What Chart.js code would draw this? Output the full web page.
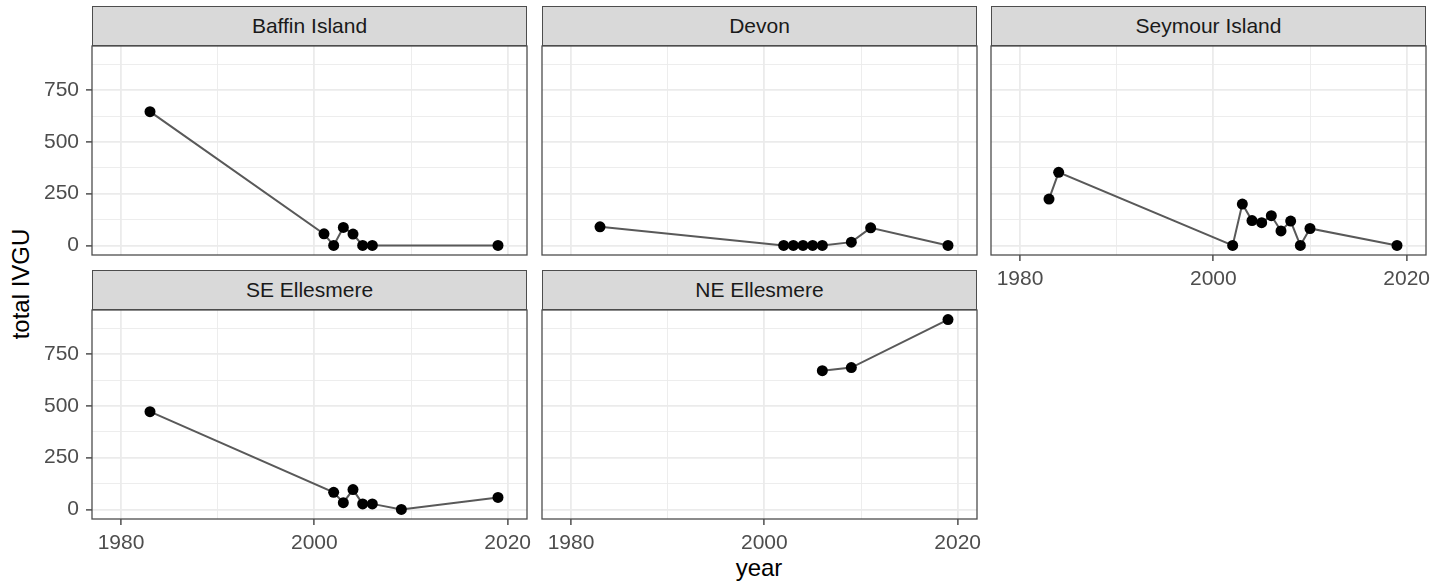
<!DOCTYPE html>
<html>
<head>
<meta charset="utf-8">
<script src="https://cdn.jsdelivr.net/npm/chart.js@4.4.1/dist/chart.umd.min.js"></script>
<style>
  body { margin: 0; background: #fff; font-family: "Liberation Sans", Arial, sans-serif; }
  #wrap { position: relative; width: 1446px; height: 584px; overflow: hidden; background: #fff; }
  canvas { position: absolute; }
  .strip {
    position: absolute; box-sizing: border-box; height: 40px;
    background: #d9d9d9; border: 1.3px solid #4d4d4d;
    color: #1a1a1a; font-size: 21px; text-align: center; line-height: 38px;
  }
  .ytitle {
    position: absolute; left: 21px; top: 284px; font-size: 24px; color: #000;
    transform: translate(-50%, -50%) rotate(-90deg); white-space: nowrap;
  }
  .xtitle {
    position: absolute; left: 759px; top: 568px; font-size: 24px; color: #000;
    transform: translate(-50%, -50%); white-space: nowrap;
  }
</style>
</head>
<body>
<div id="wrap">
  <div class="ytitle">total IVGU</div>
  <div class="xtitle">year</div>
</div>

<script>
    // values
    const baffinYears = [1983, 2001, 2002, 2003, 2004, 2005, 2006, 2019];
    const baffinIVGU = [646, 56, 0, 87, 55, 0, 0, 0];

    const devonYears = [1983, 2002, 2003, 2004, 2005, 2006, 2009, 2011, 2019];
    const devonIVGU = [90, 0, 0, 0, 0, 0, 16, 85, 0];

    const seymourYears = [1983, 1984, 2002, 2003, 2004, 2005, 2006, 2007, 2008, 2009, 2010, 2019];
    const seymourIVGU = [224, 353, 0, 200, 120, 110, 144, 70, 118, 0, 82, 0];

    const seEllesmereYears = [1983, 2002, 2003, 2004, 2005, 2006, 2009, 2019];
    const seEllesmereIVGU = [472, 83, 33, 96, 27, 27, 0, 58];

    const neEllesmereYears = [2006, 2009, 2019];
    const neEllesmereIVGU = [670, 685, 917];

    const yTicks = [0, 125, 250, 375, 500, 625, 750, 875];
    const xTicks = [1980, 1990, 2000, 2010, 2020];

    const panels = [
        { name: 'Baffin Island', years: baffinYears, vals: baffinIVGU, col: 0, row: 0, showY: true, showX: false },
        { name: 'Devon', years: devonYears, vals: devonIVGU, col: 1, row: 0, showY: false, showX: false },
        { name: 'Seymour Island', years: seymourYears, vals: seymourIVGU, col: 2, row: 0, showY: false, showX: true },
        { name: 'SE Ellesmere', years: seEllesmereYears, vals: seEllesmereIVGU, col: 0, row: 1, showY: true, showX: true },
        { name: 'NE Ellesmere', years: neEllesmereYears, vals: neEllesmereIVGU, col: 1, row: 1, showY: false, showX: true }
    ];

    // layout of the facet grid
    const colLeft = [92, 542, 991];
    const panelW = 435;
    const stripTop = [6, 270];
    const stripH = 40;
    const plotH = 209;

    const font = { family: '"Liberation Sans", Arial, sans-serif', size: 21 };

    const panelBorder = {
        id: 'panelBorder',
        afterDraw(chart) {
            const a = chart.chartArea;
            const c = chart.ctx;
            c.save();
            c.strokeStyle = '#4d4d4d';
            c.lineWidth = 1.3;
            c.strokeRect(a.left, a.top, a.right - a.left, a.bottom - a.top);
            c.restore();
        }
    };

    function noPad(s) {
        s.paddingTop = 0;
        s.paddingBottom = 0;
        s.paddingLeft = 0;
        s.paddingRight = 0;
    }

    const wrap = document.getElementById('wrap');

    panels.forEach(function (p) {
        const left = colLeft[p.col];
        const plotTop = stripTop[p.row] + stripH;

        const strip = document.createElement('div');
        strip.className = 'strip';
        strip.style.left = left + 'px';
        strip.style.top = stripTop[p.row] + 'px';
        strip.style.width = panelW + 'px';
        strip.textContent = p.name;
        wrap.appendChild(strip);

        const padTop = 2, padRight = 14;
        const padLeft = p.showY ? 0 : 2;
        const yW = p.showY ? left : 0;
        const xH = p.showX ? 40 : 0;
        const padBottom = p.showX ? 0 : 3;

        const canvas = document.createElement('canvas');
        canvas.width = padLeft + yW + panelW + padRight;
        canvas.height = padTop + plotH + xH + padBottom;
        canvas.style.width = canvas.width + 'px';
        canvas.style.height = canvas.height + 'px';
        canvas.style.left = (p.showY ? 0 : left - padLeft) + 'px';
        canvas.style.top = (plotTop - padTop) + 'px';
        wrap.appendChild(canvas);

        new Chart(canvas.getContext('2d'), {
            type: 'line',
            data: {
                datasets: [{
                    data: p.years.map((yr, i) => ({ x: yr, y: p.vals[i] })),
                    borderColor: '#595959',
                    borderWidth: 2,
                    pointRadius: 5.5,
                    pointBorderWidth: 0,
                    pointBackgroundColor: '#000',
                    tension: 0
                }]
            },
            options: {
                responsive: false,
                devicePixelRatio: 1,
                animation: false,
                layout: { autoPadding: false, padding: { top: padTop, right: padRight, left: padLeft, bottom: padBottom } },
                plugins: { legend: { display: false }, tooltip: { enabled: false } },
                scales: {
                    x: {
                        type: 'linear',
                        min: 1977,
                        max: 2022,
                        afterBuildTicks: s => { s.ticks = xTicks.map(v => ({ value: v })); },
                        afterFit: s => { s.height = xH; noPad(s); },
                        border: { display: false },
                        grid: {
                            color: '#ebebeb',
                            lineWidth: c => (c.tick && c.tick.value % 20 === 0) ? 1.8 : 0.9,
                            drawTicks: p.showX,
                            tickLength: 6,
                            tickColor: c => (c.tick && c.tick.value % 20 === 0) ? '#333333' : 'rgba(0,0,0,0)',
                            tickWidth: 1.3
                        },
                        ticks: {
                            display: p.showX,
                            autoSkip: false,
                            maxRotation: 0,
                            padding: 6,
                            color: '#4d4d4d',
                            font: font,
                            callback: v => (v % 20 === 0) ? String(v) : ''
                        }
                    },
                    y: {
                        type: 'linear',
                        min: -46,
                        max: 963,
                        afterBuildTicks: s => { s.ticks = yTicks.map(v => ({ value: v })); },
                        afterFit: s => { s.width = yW; noPad(s); },
                        border: { display: false },
                        grid: {
                            color: '#ebebeb',
                            lineWidth: c => (c.tick && c.tick.value % 250 === 0) ? 1.8 : 0.9,
                            drawTicks: p.showY,
                            tickLength: 6,
                            tickColor: c => (c.tick && c.tick.value % 250 === 0) ? '#333333' : 'rgba(0,0,0,0)',
                            tickWidth: 1.3
                        },
                        ticks: {
                            display: p.showY,
                            autoSkip: false,
                            padding: 7,
                            color: '#4d4d4d',
                            font: font,
                            callback: v => (v % 250 === 0) ? String(v) : ''
                        }
                    }
                }
            },
            plugins: [panelBorder]
        });
    });
</script>
</body>
</html>
